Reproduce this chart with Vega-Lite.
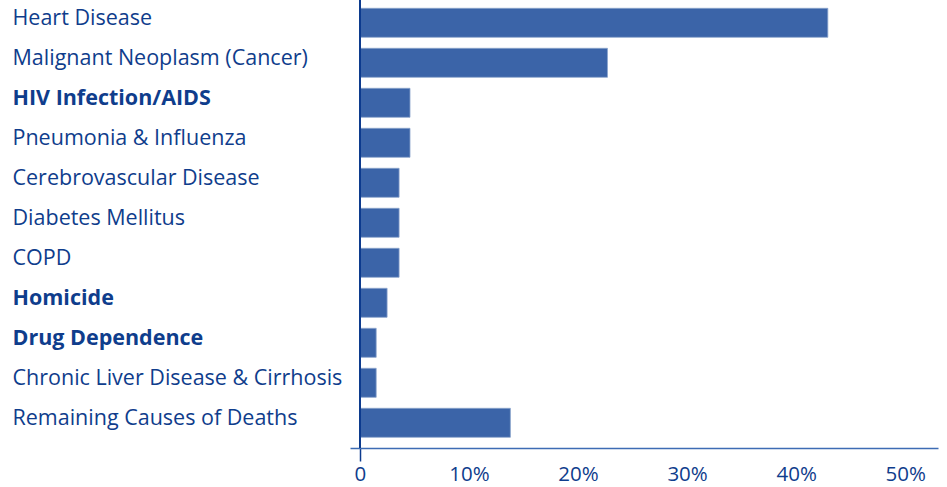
{
  "$schema": "https://vega.github.io/schema/vega-lite/v6.json",
  "autosize": "none",
  "width": 588,
  "height": 448,
  "padding": {"left": 350, "top": 0, "right": 9, "bottom": 39},
  "background": "white",
  "config": {"view": {"stroke": null}},
  "data": {
    "values": [
      {"cause": "Heart Disease", "pct": 42.9},
      {"cause": "Malignant Neoplasm (Cancer)", "pct": 22.7},
      {"cause": "HIV Infection/AIDS", "pct": 4.6},
      {"cause": "Pneumonia & Influenza", "pct": 4.6},
      {"cause": "Cerebrovascular Disease", "pct": 3.6},
      {"cause": "Diabetes Mellitus", "pct": 3.6},
      {"cause": "COPD", "pct": 3.6},
      {"cause": "Homicide", "pct": 2.5},
      {"cause": "Drug Dependence", "pct": 1.5},
      {"cause": "Chronic Liver Disease & Cirrhosis", "pct": 1.5},
      {"cause": "Remaining Causes of Deaths", "pct": 13.8}
    ]
  },
  "layer": [
    {
      "mark": {"type": "bar", "color": "#3b64a8", "stroke": "#8aa3cc", "strokeWidth": 0.8},
      "encoding": {
        "y": {
          "field": "cause", "type": "nominal", "sort": null,
          "scale": {"paddingInner": 0.275, "paddingOuter": 0.2375, "align": 0.437},
          "axis": {
            "title": null, "domain": false, "ticks": false,
            "labelAlign": "left", "labelPadding": 338, "labelBaseline": "alphabetic", "labelOffset": 2,
            "labelFont": "Open Sans", "labelFontSize": 21.5, "labelColor": "#0f3d8c", "labelLimit": 400,
            "labelFontWeight": {"condition": {"test": "indexof(['HIV Infection/AIDS','Homicide','Drug Dependence'], datum.value) >= 0", "value": "bold"}, "value": "normal"}
          }
        },
        "x": {
          "field": "pct", "type": "quantitative",
          "scale": {"domain": [-0.9, 53], "nice": false, "zero": false},
          "axis": {
            "title": null, "grid": false, "values": [0, 10, 20, 30, 40, 50],
            "labelExpr": "datum.value === 0 ? '0' : datum.value + '%'",
            "domainColor": "#3d6cb4", "domainWidth": 1.5,
            "tickSize": 13, "tickColor": "#0d3b8e", "tickWidth": 1.5,
            "tickOpacity": {"condition": {"test": "datum.value === 0", "value": 1}, "value": 0},
            "labelFont": "Open Sans", "labelFontSize": 20.5, "labelColor": "#0f3d8c",
            "labelPadding": 3, "labelFlush": false
          }
        }
      }
    },
    {
      "mark": {"type": "rule", "color": "#0d3b8e", "strokeWidth": 1.5},
      "encoding": {"x": {"datum": 0}}
    }
  ]
}
